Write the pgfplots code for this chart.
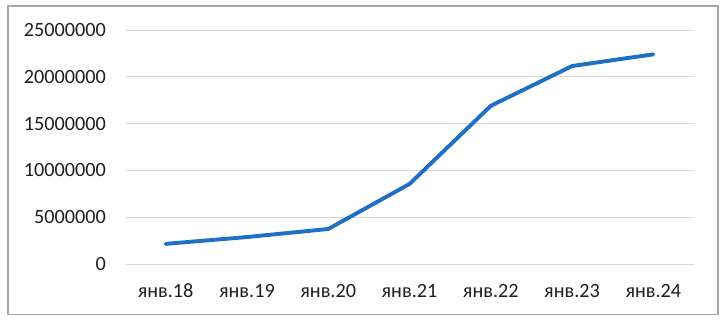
\documentclass[border=0pt]{standalone}
\usepackage{fontspec}
\setmainfont{Carlito}
\usepackage{pgfplots}
\pgfplotsset{compat=1.18}
\definecolor{lineblue}{HTML}{1F6FC4}
\definecolor{gridgray}{HTML}{D9D9D9}
\definecolor{framegray}{HTML}{A6A6A6}
\begin{document}
\begin{tikzpicture}[x=1bp,y=1bp]
\path[use as bounding box] (0,0) rectangle (721,319);
\draw[framegray, line width=1.2bp] (8,4.5) rectangle (718,313);
\begin{axis}[
  at={(125bp,55bp)}, anchor=south west,
  scale only axis, width=569bp, height=234bp,
  xmin=-0.5, xmax=6.5, ymin=0, ymax=25000000,
  scaled y ticks=false,
  axis x line*=bottom, axis y line*=left,
  x axis line style={draw=gridgray, line width=1bp},
  y axis line style={draw=none},
  ytick={0,5000000,10000000,15000000,20000000,25000000},
  yticklabels={0,5000000,10000000,15000000,20000000,25000000},
  ymajorgrids, grid style={gridgray, line width=1bp},
  ytick style={draw=none},
  yticklabel style={anchor=east, inner sep=0pt, xshift=-19bp, font=\fontsize{20.3}{24}\selectfont, text=black!88},
  xtick={0,1,2,3,4,5,6},
  xticklabels={янв.18,янв.19,янв.20,янв.21,янв.22,янв.23,янв.24},
  xtick style={draw=none},
  xticklabel style={anchor=base, inner sep=0pt, yshift=-33bp, font=\fontsize{20.3}{24}\selectfont, text=black!88},
  extra x ticks={-0.5,0.5,1.5,2.5,3.5,4.5,5.5,6.5},
  extra x tick labels={},
  extra x tick style={tick align=outside, major tick length=6bp, tick style={draw=gridgray, line width=1bp}, grid=none},
  clip=false,
]
\addplot[lineblue, line width=3.9bp, line cap=round, line join=round] coordinates {
  (0,2150000) (1,2880000) (2,3740000) (3,8550000) (4,16900000) (5,21150000) (6,22400000)
};
\end{axis}
\end{tikzpicture}
\end{document}
